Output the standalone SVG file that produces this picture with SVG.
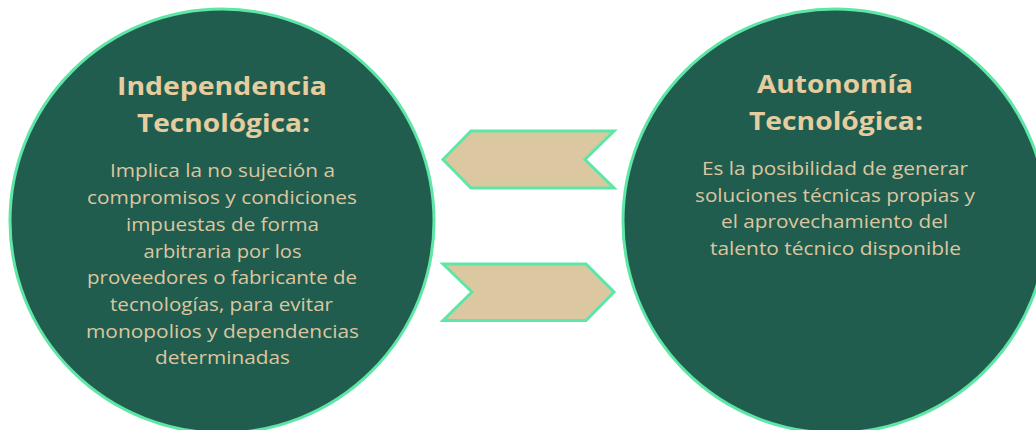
<svg xmlns="http://www.w3.org/2000/svg" width="1036" height="430" viewBox="0 0 1036 430">
<style>
.circ{fill:#215d4e;stroke:#5ee6a6;stroke-width:3}
.arr{fill:#dbc8a1;stroke:#5ee6a6;stroke-width:3;stroke-linejoin:miter}
.t{font-family:"Open Sans","Noto Sans",sans-serif;font-weight:700;font-size:25.5px;fill:#e6cda0;text-anchor:middle}
.b{font-family:"Open Sans","Noto Sans",sans-serif;font-size:18px;fill:#dcc6a0;text-anchor:middle}
</style>
<rect width="1036" height="430" fill="#ffffff"/>
<g id="node-independencia">
<circle class="circ" cx="222" cy="221" r="212"/>
<text class="t" x="222" y="95" textLength="210" lengthAdjust="spacingAndGlyphs">Independencia</text>
<text class="t" x="223.5" y="132" textLength="173" lengthAdjust="spacingAndGlyphs">Tecnológica:</text>
<text class="b" x="222.5" y="177" textLength="225" lengthAdjust="spacingAndGlyphs">Implica la no sujeción a</text>
<text class="b" x="222" y="204" textLength="270" lengthAdjust="spacingAndGlyphs">compromisos y condiciones</text>
<text class="b" x="222.5" y="231" textLength="193" lengthAdjust="spacingAndGlyphs">impuestas de forma</text>
<text class="b" x="222.5" y="258" textLength="158" lengthAdjust="spacingAndGlyphs">arbitraria por los</text>
<text class="b" x="222" y="284" textLength="270" lengthAdjust="spacingAndGlyphs">proveedores o fabricante de</text>
<text class="b" x="221.5" y="311" textLength="223" lengthAdjust="spacingAndGlyphs">tecnologías, para evitar</text>
<text class="b" x="222.5" y="338" textLength="273" lengthAdjust="spacingAndGlyphs">monopolios y dependencias</text>
<text class="b" x="222.5" y="364" textLength="135" lengthAdjust="spacingAndGlyphs">determinadas</text>
</g>
<g id="node-autonomia">
<circle class="circ" cx="835" cy="221" r="212"/>
<text class="t" x="835" y="93" textLength="156" lengthAdjust="spacingAndGlyphs">Autonomía</text>
<text class="t" x="836" y="130" textLength="174" lengthAdjust="spacingAndGlyphs">Tecnológica:</text>
<text class="b" x="835" y="175" textLength="266" lengthAdjust="spacingAndGlyphs">Es la posibilidad de generar</text>
<text class="b" x="835" y="202" textLength="280" lengthAdjust="spacingAndGlyphs">soluciones técnicas propias y</text>
<text class="b" x="834.5" y="228" textLength="227" lengthAdjust="spacingAndGlyphs">el aprovechamiento del</text>
<text class="b" x="835.5" y="255" textLength="251" lengthAdjust="spacingAndGlyphs">talento técnico disponible</text>
</g>
<g id="connectors">
<polygon class="arr" points="443,159.5 471,131 614,131 585,159.5 614,188 471,188"/>
<polygon class="arr" points="443,264 472,292 443,320.5 586,320.5 614,292 586,264"/>
</g>
</svg>
